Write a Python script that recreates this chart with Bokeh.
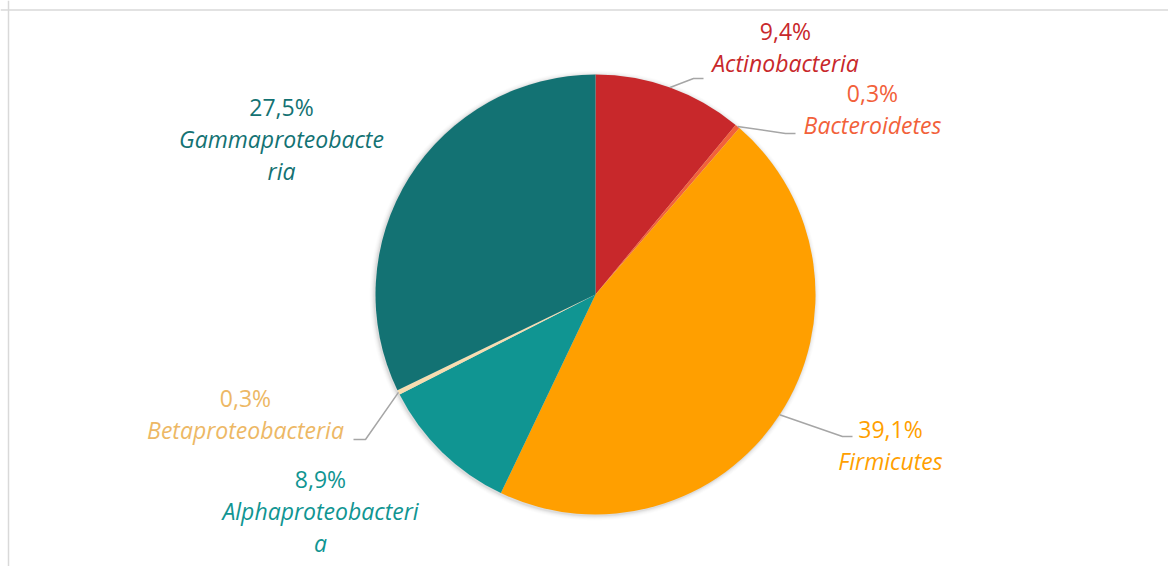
import math
from bokeh.plotting import figure
from bokeh.models import Range1d, Span, ColumnDataSource
from bokeh.core.properties import value
from bokeh.embed import file_html
from bokeh.resources import INLINE

# ---- data ----
categories = ["Actinobacteria", "Bacteroidetes", "Firmicutes",
              "Alphaproteobacteria", "Betaproteobacteria", "Gammaproteobacteria"]
values = [9.4, 0.3, 39.1, 8.9, 0.3, 27.5]
slice_colors = ["#C8282B", "#F2613A", "#FF9F00", "#109592", "#F6DDB0", "#137273"]
text_colors = ["#C8282B", "#F2613A", "#FF9F00", "#109592", "#EDB865", "#137273"]
name_lines = [["Actinobacteria"], ["Bacteroidetes"], ["Firmicutes"],
              ["Alphaproteobacteri", "a"], ["Betaproteobacteria"],
              ["Gammaproteobacte", "ria"]]

# ---- layout (pixel-like coordinates, y upward) ----
W, H = 1168, 566
def X(sx): return sx
def Y(sy): return H - sy

CX, CY, R = X(595), Y(294), 220
# label centre x, y of first (percentage) line, and elbow/end of leader line (screen coords)
label_pos = [(785, 30), (872, 92), (890, 428), (320, 478), (245, 397), (281, 106)]
leaders = [((693, 78), (703, 78)), ((785, 133), (795, 133)), ((842, 436), (852, 436)),
           None, ((365, 439), (353, 439)), None]
LINE_STEP = 32

p = figure(width=W, height=H, output_backend="svg", toolbar_location=None,
           x_range=Range1d(0, W), y_range=Range1d(0, H),
           min_border=0, outline_line_color=None, background_fill_color="white",
           border_fill_color="white")
p.axis.visible = False
p.grid.visible = False

# chart border (top and left visible)
p.add_layout(Span(location=Y(9.5), dimension="width", line_color="#D9D9D9", line_width=1.5))
p.add_layout(Span(location=X(8), dimension="height", line_color="#D9D9D9", line_width=1.5))

# soft shadow
for i, a in enumerate([0.05, 0.035, 0.025, 0.015, 0.01]):
    p.circle(x=CX - 1, y=CY - 1, radius=R + 1 + i, fill_color="black", fill_alpha=a, line_color=None)

total = sum(values)
starts, ends, mids = [], [], []
cum = 0.0
for v in values:
    a0 = math.pi / 2 - 2 * math.pi * cum / total
    cum += v
    a1 = math.pi / 2 - 2 * math.pi * cum / total
    starts.append(a0); ends.append(a1); mids.append((a0 + a1) / 2)

src = ColumnDataSource(dict(start=starts, end=ends, color=slice_colors))
p.wedge(x=CX, y=CY, radius=R, start_angle="start", end_angle="end", direction="clock",
        fill_color="color", line_color=None, source=src)

# leader lines
lxs, lys = [], []
for m, ld in zip(mids, leaders):
    if ld is None:
        continue
    ex, ey = CX + R * math.cos(m), CY + R * math.sin(m)
    lxs.append([ex, X(ld[0][0]), X(ld[1][0])])
    lys.append([ey, Y(ld[0][1]), Y(ld[1][1])])
p.multi_line(xs=lxs, ys=lys, line_color="#A6A6A6", line_width=1.5)

# labels
FONT = value("Open Sans")
FS = "23px"
for v, names, col, (lx, ly) in zip(values, name_lines, text_colors, label_pos):
    pct = ("%.1f%%" % v).replace(".", ",")
    p.text(x=[X(lx)], y=[Y(ly)], text=[pct], text_font=FONT, text_font_size=FS,
           text_color=col, text_align="center", text_baseline="middle")
    for k, nm in enumerate(names):
        p.text(x=[X(lx)], y=[Y(ly + LINE_STEP * (k + 1))], text=[nm], text_font=FONT,
               text_font_size=FS, text_font_style="italic", text_color=col,
               text_align="center", text_baseline="middle")

open("out.html", "w").write(file_html(p, INLINE))
